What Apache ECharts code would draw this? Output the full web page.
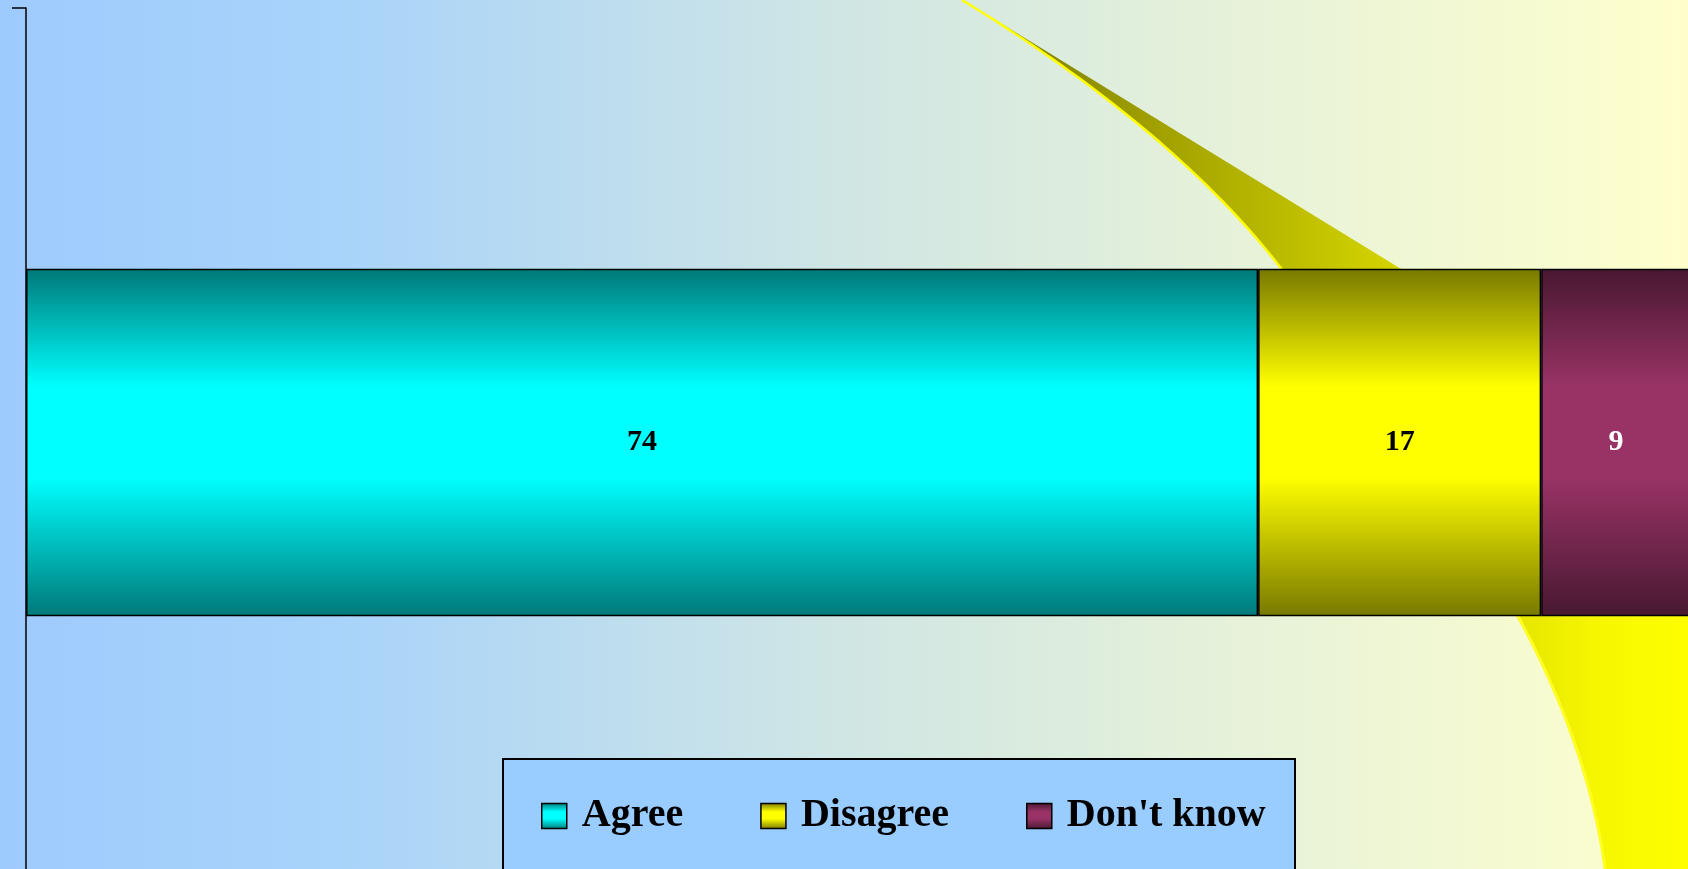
<!DOCTYPE html>
<html>
<head>
<meta charset="utf-8">
<script src="https://cdn.jsdelivr.net/npm/echarts@6/dist/echarts.min.js"></script>
<style>
  html, body {margin: 0; padding: 0; overflow: hidden;}
  #chart {width: 1688px; height: 869px;}
</style>
</head>
<body>
<div id="chart"></div>
<script>
// data
var categories = [''];
var seriesNames = ['Agree', 'Disagree', "Don't know"];
var agreeValues = [74];
var disagreeValues = [17];
var dontKnowValues = [9];

var W = 1688, H = 869;
var serif = "'Times New Roman', 'Liberation Serif', serif";

// vertical gradient for the bars: dark edges, bright middle
function barFill(dark, bright) {
  return new echarts.graphic.LinearGradient(0, 0, 0, 1, [
    {offset: 0, color: dark},
    {offset: 0.34, color: bright},
    {offset: 0.6, color: bright},
    {offset: 1, color: dark}
  ]);
}

// sample a quadratic curve to points (decoration only)
function quad(p0, c, p1, n) {
  var pts = [];
  for (var i = 0; i <= n; i++) {
    var t = i / n, a = (1 - t) * (1 - t), b = 2 * t * (1 - t), d = t * t;
    pts.push([a * p0[0] + b * c[0] + d * p1[0], a * p0[1] + b * c[1] + d * p1[1]]);
  }
  return pts;
}

var topEdge = quad([962, 0], [1175, 130], [1284, 272], 40);
var topShape = topEdge.concat([[1406, 272], [1002, 24]]);
var botEdge = quad([1509, 600], [1588, 740], [1605, 869], 40);
var botShape = botEdge.concat([[1700, 869], [1700, 600]]);

var myChart = echarts.init(document.getElementById('chart'));

function makeSeries(name, values, dark, bright, labelColor) {
  return {
    name: name,
    type: 'bar',
    stack: 'total',
    data: values,
    barWidth: '40%',
    itemStyle: {
      color: barFill(dark, bright),
      borderColor: '#000',
      borderWidth: 1.5
    },
    label: {
      show: true,
      position: 'inside',
      color: labelColor,
      fontFamily: serif,
      fontWeight: 'bold',
      fontSize: 30
    }
  };
}

myChart.setOption({
  animation: false,
  graphic: [
    {
      type: 'rect', z: -10, silent: true,
      shape: {x: 0, y: 0, width: W, height: H},
      style: {
        fill: new echarts.graphic.LinearGradient(0, 0, 1, 0, [
          {offset: 0, color: '#9ECBFD'},
          {offset: 0.2, color: '#A8D3FA'},
          {offset: 0.5, color: '#D0E6E4'},
          {offset: 1, color: '#FFFFCC'}
        ])
      }
    },
    {
      type: 'polygon', z: 0, silent: true,
      shape: {points: topShape},
      style: {
        fill: new echarts.graphic.LinearGradient(0, 0, 1, 0, [
          {offset: 0, color: '#767600'},
          {offset: 1, color: '#D6D600'}
        ])
      }
    },
    {
      type: 'polyline', z: 0, silent: true,
      shape: {points: topEdge},
      style: {stroke: '#FFFF00', lineWidth: 2.5, fill: null}
    },
    {
      type: 'polygon', z: 0, silent: true,
      shape: {points: botShape},
      style: {
        fill: new echarts.graphic.LinearGradient(0, 0, 1, 0, [
          {offset: 0, color: '#E4E400'},
          {offset: 0.45, color: '#F6F600'},
          {offset: 1, color: '#FFFF00'}
        ])
      }
    },
    {
      type: 'polyline', z: 0, silent: true,
      shape: {points: botEdge},
      style: {stroke: '#FFFF22', lineWidth: 3, fill: null}
    },
    {
      type: 'rect', z: 3, silent: true,
      shape: {x: 503, y: 759, width: 792, height: 130},
      style: {fill: '#99CCFF', stroke: '#000', lineWidth: 2}
    }
  ],
  legend: {
    data: seriesNames,
    left: 541,
    top: 796,
    padding: 0,
    icon: 'rect',
    itemWidth: 25,
    itemHeight: 25,
    itemGap: 77,
    itemStyle: {borderColor: '#000', borderWidth: 1.5},
    textStyle: {
      fontFamily: serif,
      fontWeight: 'bold',
      fontSize: 40,
      color: '#000',
      lineHeight: 25,
      padding: [0, 0, 0, 10]
    }
  },
  // axis runs from the top tick down past the bottom edge, bars run past the right edge
  grid: {
    left: 26, top: 8, width: 1665, height: 869,
    containLabel: false,
    outerBoundsMode: 'none'
  },
  xAxis: {
    type: 'value',
    min: 0,
    max: 100,
    show: false
  },
  yAxis: {
    type: 'category',
    data: categories,
    axisLine: {show: true, lineStyle: {color: '#000', width: 1.5}},
    axisTick: {show: true, length: 14, lineStyle: {color: '#000', width: 1.5}},
    axisLabel: {show: false},
    splitLine: {show: false}
  },
  series: [
    makeSeries(seriesNames[0], agreeValues, '#007878', '#00FFFF', '#000'),
    makeSeries(seriesNames[1], disagreeValues, '#787800', '#FFFF00', '#000'),
    makeSeries(seriesNames[2], dontKnowValues, '#481830', '#993366', '#fff')
  ]
});
</script>
</body>
</html>
